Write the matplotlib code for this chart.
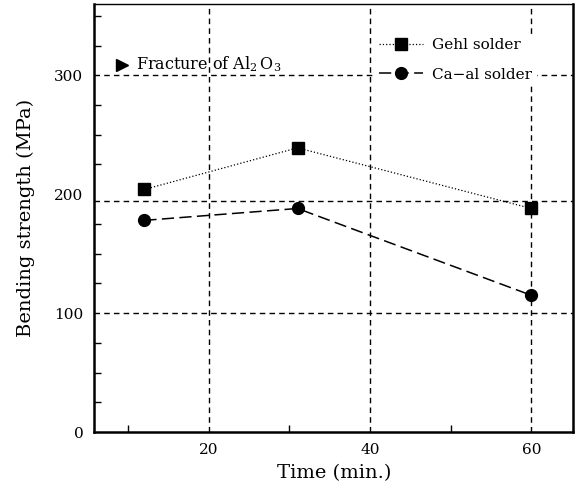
import numpy as np
import matplotlib.pyplot as plt
from matplotlib.ticker import MultipleLocator

# -------------------------------------------------
# Data
# -------------------------------------------------
gehl_time = [12, 31, 60]
gehl_strength = [204, 239, 188]

caal_time = [12, 31, 60]
caal_strength = [178, 188, 115]

fracture_level = 194
grid_x = [20, 40, 60]
grid_y = [100, fracture_level, 300]

plt.rcParams["font.family"] = ["DejaVu Serif"]
plt.rcParams["mathtext.fontset"] = "dejavuserif"

fig = plt.figure(figsize=(5.79, 4.96), dpi=100)
ax = fig.add_axes([0.163, 0.129, 0.827, 0.863])

# dashed reference lines
for gx in grid_x:
    ax.axvline(gx, color="black", ls=(0, (4, 3)), lw=1.0, zorder=1)
for gy in grid_y:
    ax.axhline(gy, color="black", ls=(0, (4, 3)), lw=1.0, zorder=1)

ax.plot(gehl_time, gehl_strength, color="black", ls=":", lw=0.9,
        marker="s", ms=9, label="Gehl solder", zorder=3)
ax.plot(caal_time, caal_strength, color="black", ls=(0, (8, 3.5)), lw=1.1,
        marker="o", ms=8.5, label="Ca\u2212al solder", zorder=3)

# fracture annotation
ax.plot([9.2], [309], marker=">", color="black", ms=9, ls="none", zorder=4)
ax.text(11.0, 309, "Fracture of Al$_2\\,$O$_3$", fontsize=11.5, va="center",
        ha="left", zorder=4)

ax.set_xlim(5.8, 65.2)
ax.set_ylim(0, 360)
ax.set_xticks([20, 40, 60])
ax.set_yticks([0, 100, 200, 300])
ax.xaxis.set_minor_locator(MultipleLocator(10))
ax.yaxis.set_minor_locator(MultipleLocator(25))
ax.tick_params(which="major", length=0, labelsize=11, pad=8)
ax.tick_params(which="minor", direction="in", length=5, width=1)
ax.tick_params(axis="x", which="minor", top=False)
ax.tick_params(axis="y", which="minor", right=False)

for side in ["left", "bottom", "right"]:
    ax.spines[side].set_linewidth(1.8)
ax.spines["top"].set_linewidth(1.0)

ax.set_xlabel("Time (min.)", fontsize=14, labelpad=5)
ax.set_ylabel("Bending strength (MPa)", fontsize=14, labelpad=14)

leg = ax.legend(loc="center left", bbox_to_anchor=(0.584, 0.869), fontsize=11,
                frameon=True, handlelength=2.9, handletextpad=0.6,
                labelspacing=1.0, borderpad=0.3, borderaxespad=0)
leg.get_frame().set_facecolor("white")
leg.get_frame().set_edgecolor("none")
leg.get_frame().set_alpha(1.0)

fig.savefig("out.png", dpi=100)
